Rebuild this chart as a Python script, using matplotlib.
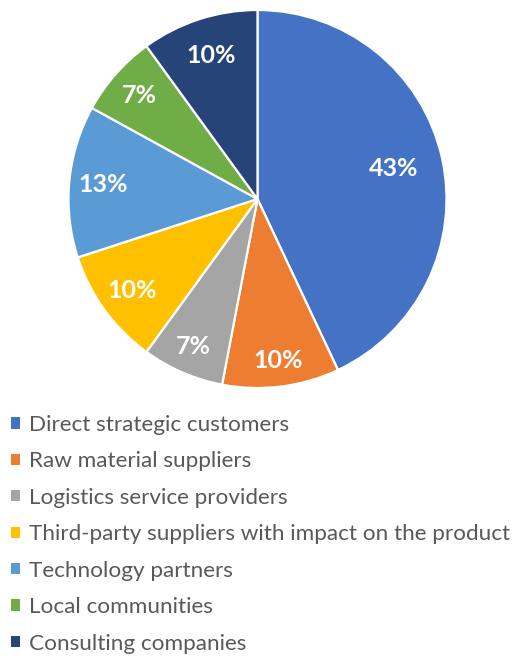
import matplotlib.pyplot as plt
import numpy as np
from matplotlib.patches import Patch

plt.rcParams['font.family'] = ['Lato', 'DejaVu Sans']

categories = ["Direct strategic customers", "Raw material suppliers",
              "Logistics service providers",
              "Third-party suppliers with impact on the product",
              "Technology partners", "Local communities",
              "Consulting companies"]
shares = [43, 10, 7, 10, 13, 7, 10]
colors = ["#4472C4", "#ED7D31", "#A5A5A5", "#FFC000", "#5B9BD5",
          "#70AD47", "#264478"]
# how far out each percentage label sits (fraction of radius)
label_dist = [0.74, 0.86, 0.85, 0.82, 0.82, 0.83, 0.80]

fig = plt.figure(figsize=(5.16, 6.59), dpi=100)
r_px = 189
cx, cy = 257.5, 659 - 199
ax = fig.add_axes([(cx - r_px) / 516, (cy - r_px) / 659,
                   2 * r_px / 516, 2 * r_px / 659])

wedges, _ = ax.pie(shares, colors=colors, startangle=90, counterclock=False,
                   wedgeprops=dict(edgecolor="white", linewidth=1.6))
ax.set_xlim(-1, 1)
ax.set_ylim(-1, 1)

for w, v, d in zip(wedges, shares, label_dist):
    ang = np.deg2rad((w.theta1 + w.theta2) / 2)
    ax.text(d * np.cos(ang), d * np.sin(ang), f"{v}%", color="white",
            fontsize=18, fontweight="bold", ha="center", va="center")

handles = [Patch(facecolor=c, edgecolor="none") for c in colors]
fig.legend(handles, categories, loc="upper left",
           bbox_to_anchor=(2 / 516, 1 - 406 / 659), frameon=False,
           fontsize=16.2, labelcolor="#595959", handlelength=0.4,
           handleheight=0.4, handletextpad=0.4, labelspacing=0.73,
           borderaxespad=0)

fig.savefig("out.png", dpi=100)
